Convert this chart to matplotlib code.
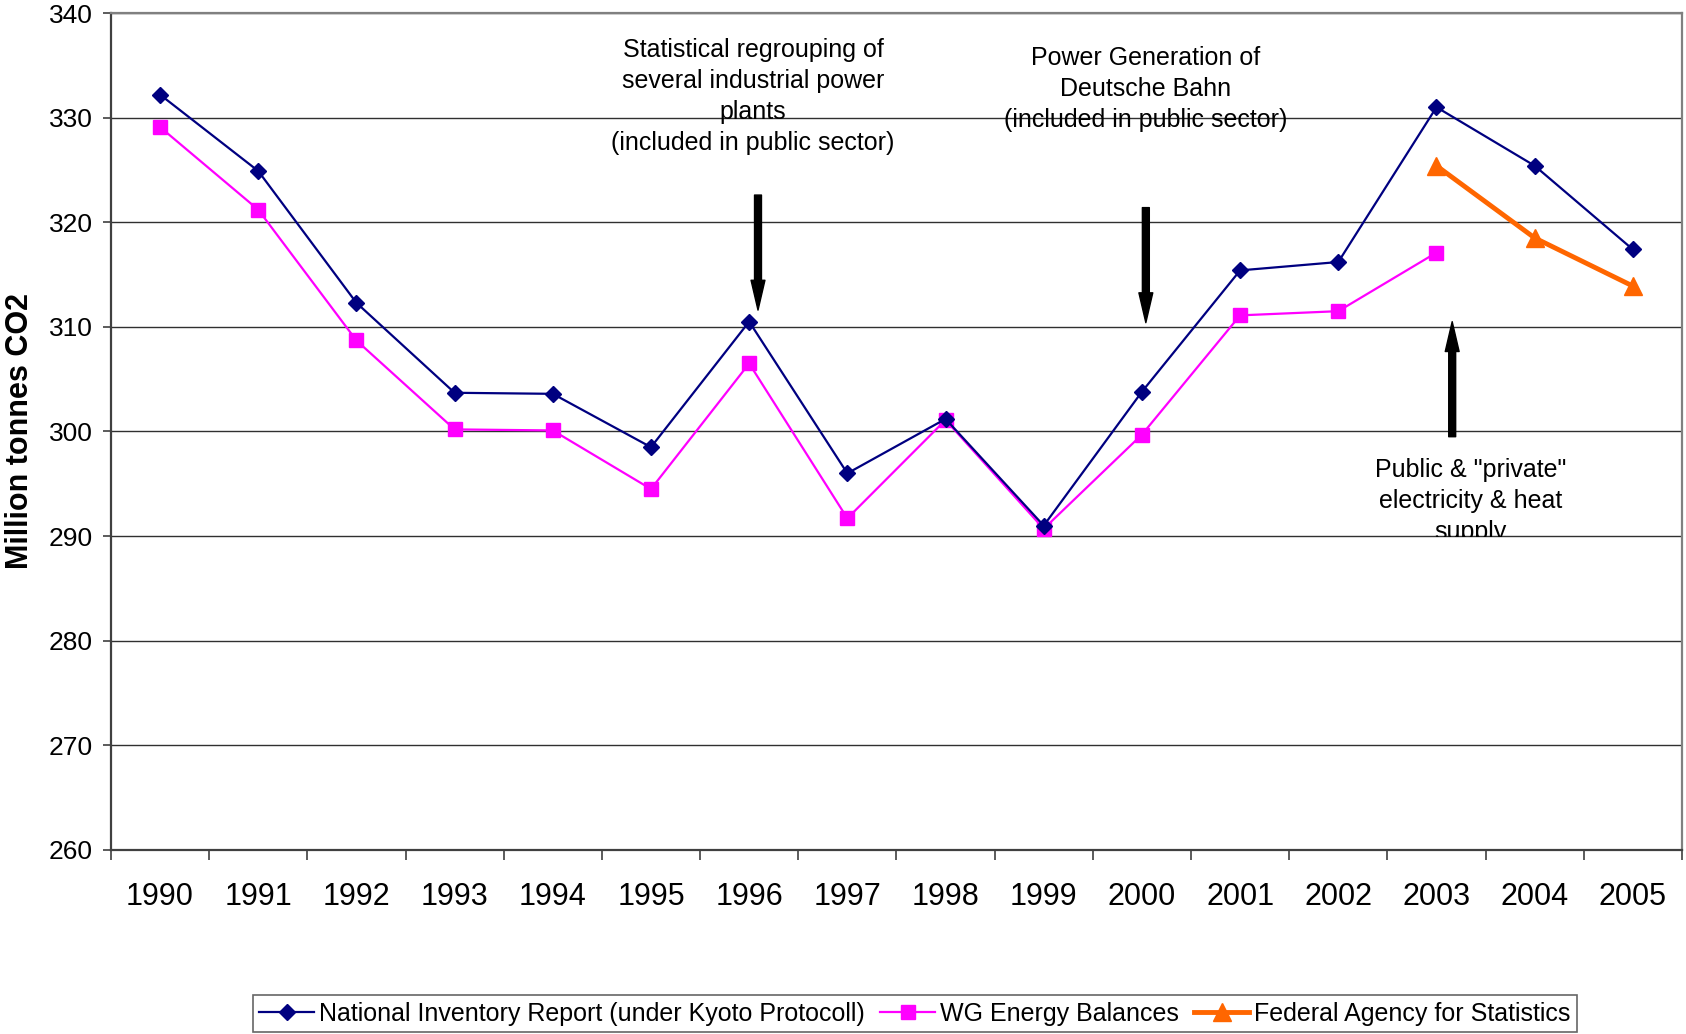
import numpy as np
import matplotlib
matplotlib.use("Agg")
import matplotlib.pyplot as plt
from matplotlib.transforms import Bbox, TransformedBbox

plt.rcParams["font.family"] = ["Liberation Sans", "DejaVu Sans"]

# Data
years = ["1990", "1991", "1992", "1993", "1994", "1995", "1996", "1997",
         "1998", "1999", "2000", "2001", "2002", "2003", "2004", "2005"]
nir = [332.2, 324.9, 312.3, 303.7, 303.6, 298.5, 310.5, 296.0,
       301.2, 291.0, 303.8, 315.4, 316.2, 331.0, 325.4, 317.4]
wg_energy = [329.1, 321.2, 308.7, 300.2, 300.1, 294.5, 306.5, 291.7,
             301.1, 290.7, 299.7, 311.1, 311.5, 317.1, np.nan, np.nan]
fed_agency = [np.nan] * 13 + [325.4, 318.5, 313.9]

series_labels = ["National Inventory Report (under Kyoto Protocoll)",
                 "WG Energy Balances",
                 "Federal Agency for Statistics"]

y_ticks = [260, 270, 280, 290, 300, 310, 320, 330, 340]

fig = plt.figure(figsize=(16.86, 10.34), dpi=100)
ax = fig.add_axes([0.0658, 0.178, 0.9318, 0.8094])

x = np.arange(len(years))
ax.plot(x, nir, color="#000080", lw=1.6, marker="D", ms=8.5,
        label=series_labels[0], zorder=4)
ax.plot(x, wg_energy, color="#FF00FF", lw=1.6, marker="s", ms=10,
        label=series_labels[1], zorder=3)
ax.plot(x, fed_agency, color="#FF6600", lw=3.5, marker="^", ms=13,
        label=series_labels[2], zorder=5)

ax.set_xlim(-0.5, len(years) - 0.5)
ax.set_ylim(260, 340)
ax.set_yticks(y_ticks)
ax.tick_params(axis="y", labelsize=19, length=6, width=1.2, pad=7,
               color="#404040")

# category boundaries get the tick marks, centers carry the labels
ax.set_xticks(np.arange(len(years) + 1) - 0.5)
ax.set_xticklabels([])
ax.set_xticks(x, minor=True)
ax.set_xticklabels(years, minor=True)
ax.tick_params(axis="x", which="major", length=7, width=1.2, color="#404040")
ax.tick_params(axis="x", which="minor", length=0, labelsize=22, pad=23)

ax.grid(axis="y", color="#303030", lw=1.0)
ax.set_axisbelow(True)
for side in ["left", "bottom"]:
    ax.spines[side].set_color("#404040")
    ax.spines[side].set_linewidth(1.6)
for side in ["top", "right"]:
    ax.spines[side].set_color("#808080")
    ax.spines[side].set_linewidth(1.6)

ax.set_ylabel("Million tonnes CO2", fontsize=22, fontweight="bold",
              labelpad=10)

# annotations and arrows
ax.text(6.04, 332.0, "Statistical regrouping of\nseveral industrial power\n"
        "plants\n(included in public sector)", ha="center", va="center",
        fontsize=18, linespacing=1.37)
ax.text(10.04, 332.7, "Power Generation of\nDeutsche Bahn\n"
        "(included in public sector)", ha="center", va="center",
        fontsize=18, linespacing=1.37)
t3 = ax.text(13.35, 293.4, "Public & \"private\"\nelectricity & heat\nsupply",
             ha="center", va="center", fontsize=18, linespacing=1.37)
t3.set_clip_box(TransformedBbox(Bbox([[-0.5, 289.9], [15.5, 340]]),
                                ax.transData))
t3.set_clip_on(True)

arrow_style = "simple,head_length=2.15,head_width=1.0,tail_width=0.5"
arrows = [((6.09, 311.6), (6.09, 322.6)),
          ((10.04, 310.4), (10.04, 321.4)),
          ((13.16, 310.5), (13.16, 299.5))]
for tip, tail in arrows:
    ax.annotate("", xy=tip, xytext=tail,
                arrowprops=dict(arrowstyle=arrow_style, color="black",
                                mutation_scale=10, shrinkA=0, shrinkB=0))

leg = fig.legend(loc="center", bbox_to_anchor=(0.5427, 0.0198), ncol=3,
                 fontsize=18, frameon=True, fancybox=False,
                 handlelength=2.2, handletextpad=0.2, columnspacing=0.6,
                 borderpad=0.25, borderaxespad=0)
leg.get_frame().set_edgecolor("#404040")
leg.get_frame().set_linewidth(1.2)

fig.savefig("out.png", dpi=100)
